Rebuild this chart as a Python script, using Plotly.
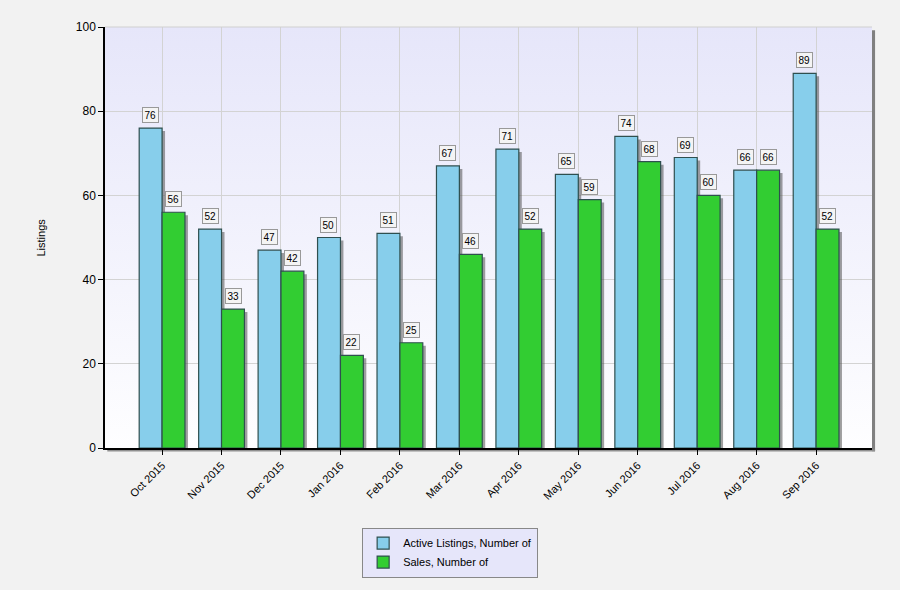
import base64
import plotly.graph_objects as go

months = ["Oct 2015", "Nov 2015", "Dec 2015", "Jan 2016", "Feb 2016", "Mar 2016",
          "Apr 2016", "May 2016", "Jun 2016", "Jul 2016", "Aug 2016", "Sep 2016"]
active_listings = [76, 52, 47, 50, 51, 67, 71, 65, 74, 69, 66, 89]
sales = [56, 33, 42, 22, 25, 46, 52, 59, 68, 60, 66, 52]

series_names = ["Active Listings, Number of", "Sales, Number of"]
series_colors = ["#87CEEB", "#32CD32"]
y_ticks = [0, 20, 40, 60, 80, 100]

W = 0.385          # width of one bar in category units
SH_X = 0.05        # shadow offset (category units)
SH_Y = 0.7         # shadow offset (value units)

fig = go.Figure()

# shadows
for vals, off in ((active_listings, -W), (sales, 0.0)):
    fig.add_trace(go.Bar(
        x=months, y=vals, base=[-SH_Y] * len(vals), width=W, offset=off + SH_X,
        marker=dict(color="rgba(80,80,80,0.55)", line=dict(width=0)),
        showlegend=False, hoverinfo="skip"))

# bars
for vals, off, name, col in ((active_listings, -W, series_names[0], series_colors[0]),
                             (sales, 0.0, series_names[1], series_colors[1])):
    fig.add_trace(go.Bar(
        x=months, y=vals, width=W, offset=off, name=name,
        marker=dict(color=col, line=dict(color="#2F4F4F", width=1.2))))

# value labels
ann = []
for vals, xs in ((active_listings, -11.5), (sales, 11.5)):
    for m, v in zip(months, vals):
        ann.append(dict(x=m, y=v, xref="x", yref="y", text=str(v), showarrow=False,
                        xshift=xs, yshift=5, yanchor="bottom",
                        font=dict(family="Arial", size=10, color="#000000"),
                        bgcolor="#F4F4F4", bordercolor="#999999", borderwidth=1,
                        borderpad=1.5))
ann.append(dict(text="Listings", xref="paper", yref="paper", x=-0.0847, xanchor="center",
                y=0.5, showarrow=False, textangle=-90,
                font=dict(family="Arial", size=11, color="#000000")))

svg = ("<svg xmlns='http://www.w3.org/2000/svg' width='100' height='100' "
       "preserveAspectRatio='none'><defs><linearGradient id='g' x1='0' y1='0' x2='0' y2='1'>"
       "<stop offset='0' stop-color='#E6E6FA'/><stop offset='1' stop-color='#FEFEFF'/>"
       "</linearGradient></defs><rect width='100' height='100' fill='url(#g)'/></svg>")
img_src = "data:image/svg+xml;base64," + base64.b64encode(svg.encode()).decode()

fig.update_layout(
    width=900, height=590,
    margin=dict(l=105, r=28, t=27, b=139),
    paper_bgcolor="#F2F2F2",
    plot_bgcolor="rgba(0,0,0,0)",
    barmode="overlay",
    font=dict(family="Arial", size=11, color="#000000"),
    showlegend=True,
    legend=dict(x=0.45, xanchor="center", y=-0.189, yanchor="top",
                bgcolor="#E6E6FA", bordercolor="#888888", borderwidth=1,
                font=dict(family="Arial", size=11, color="#000000"),
                tracegroupgap=0, itemwidth=30),
    annotations=ann,
    images=[dict(source=img_src, xref="paper", yref="paper", x=0, y=1,
                 sizex=1, sizey=1, sizing="stretch", layer="below")],
    shapes=[
        dict(type="rect", xref="paper", yref="paper", x0=1.0, x1=1.004, y0=-0.008, y1=0.992,
             fillcolor="#808080", line=dict(width=0), layer="below"),
        dict(type="line", xref="paper", yref="paper", x0=0, x1=1, y0=1, y1=1,
             line=dict(color="#D0D0D0", width=1)),
        dict(type="line", xref="paper", yref="paper", x0=0.003, x1=1.004, y0=-0.006, y1=-0.006,
             line=dict(color="#909090", width=2), layer="below"),
    ],
)

fig.update_xaxes(type="category", range=[-0.96, 11.94], showgrid=True, gridcolor="#D3D3D3",
                 ticks="outside", ticklen=5, tickcolor="#000000", tickangle=-45,
                 showline=True, linecolor="#000000", linewidth=1.5,
                 tickfont=dict(family="Arial", size=11, color="#000000"))
fig.update_yaxes(range=[0, 100], tickvals=y_ticks, showgrid=True, gridcolor="#D3D3D3",
                 ticks="outside", ticklen=5, tickcolor="#000000",
                 showline=True, linecolor="#000000", linewidth=1.5, zeroline=False,
                 tickfont=dict(family="Arial", size=12, color="#000000"))

fig.write_html("out.html", config={"displayModeBar": False},
               post_script="document.body.style.margin='0';document.body.style.overflow='hidden';")
